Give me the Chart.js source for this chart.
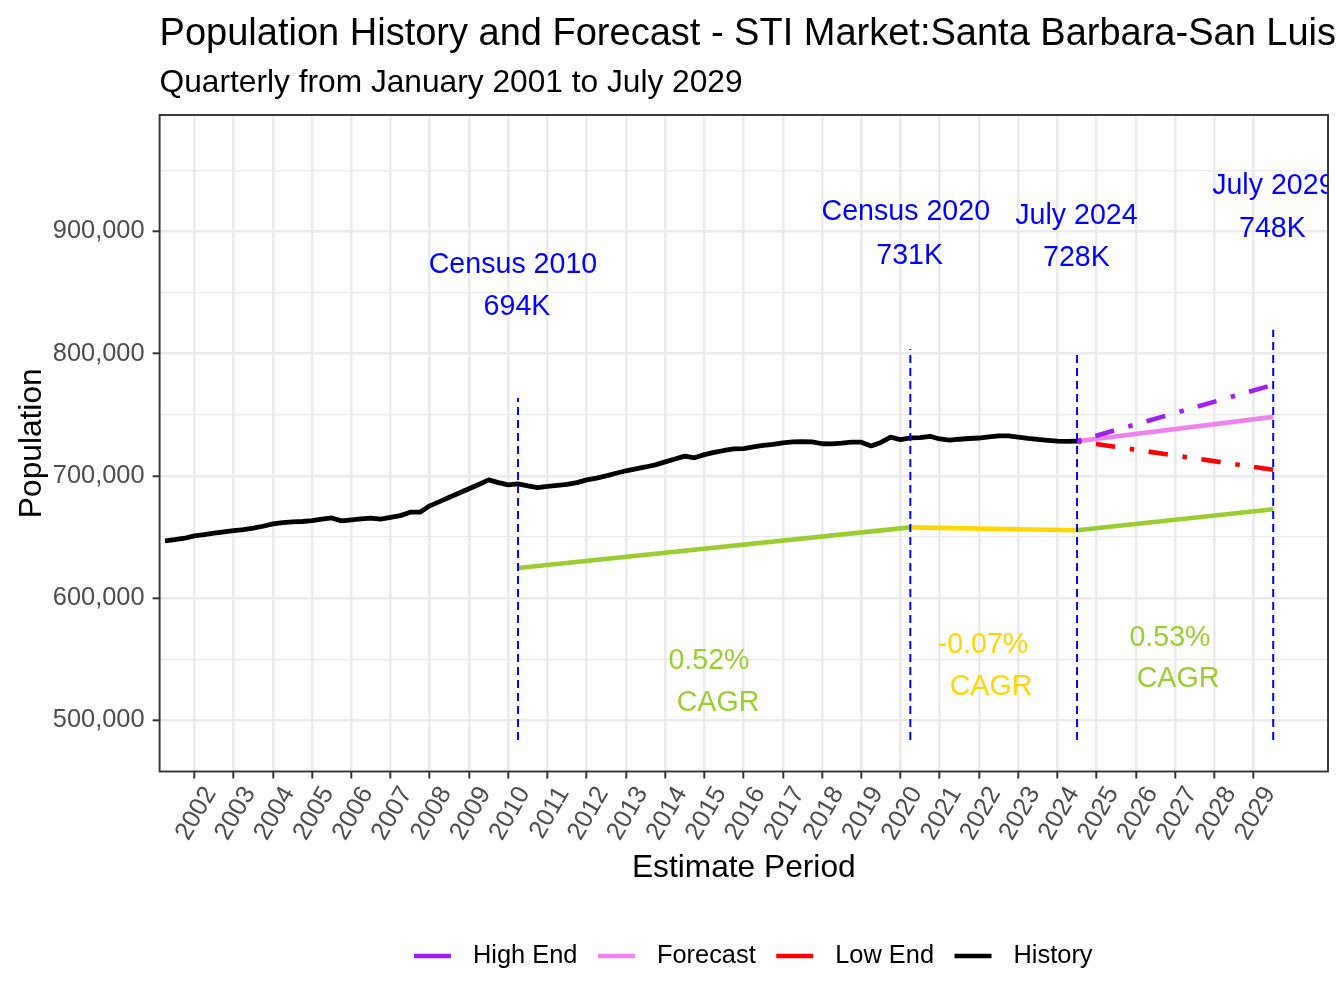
<!DOCTYPE html>
<html>
<head>
<meta charset="utf-8">
<script src="https://cdn.jsdelivr.net/npm/chart.js@4.4.0/dist/chart.umd.min.js"></script>
<style>
html,body{margin:0;padding:0;background:#ffffff;}
#wrap{width:1344px;height:1008px;position:relative;}
</style>
</head>
<body>
<div id="wrap"><canvas id="c" width="1344" height="1008"></canvas></div>
<script>
// ---------------- DATA ----------------
const chartTitle = "Population History and Forecast - STI Market:Santa Barbara-San Luis";
const chartSubtitle = "Quarterly from January 2001 to July 2029";
const xAxisTitle = "Estimate Period";
const yAxisTitle = "Population";

const historyPeriods = [
  "2001-04","2001-07","2001-10",
  "2002-01","2002-04","2002-07","2002-10",
  "2003-01","2003-04","2003-07","2003-10",
  "2004-01","2004-04","2004-07","2004-10",
  "2005-01","2005-04","2005-07","2005-10",
  "2006-01","2006-04","2006-07","2006-10",
  "2007-01","2007-04","2007-07","2007-10",
  "2008-01","2008-04","2008-07","2008-10",
  "2009-01","2009-04","2009-07","2009-10",
  "2010-01","2010-04","2010-07","2010-10",
  "2011-01","2011-04","2011-07","2011-10",
  "2012-01","2012-04","2012-07","2012-10",
  "2013-01","2013-04","2013-07","2013-10",
  "2014-01","2014-04","2014-07","2014-10",
  "2015-01","2015-04","2015-07","2015-10",
  "2016-01","2016-04","2016-07","2016-10",
  "2017-01","2017-04","2017-07","2017-10",
  "2018-01","2018-04","2018-07","2018-10",
  "2019-01","2019-04","2019-07","2019-10",
  "2020-01","2020-04","2020-07","2020-10",
  "2021-01","2021-04","2021-07","2021-10",
  "2022-01","2022-04","2022-07","2022-10",
  "2023-01","2023-04","2023-07","2023-10",
  "2024-01","2024-04","2024-07"
];
const historyValues = [
  646800,647800,649000,
  650900,652000,653100,654200,
  655200,656100,657200,658800,
  660700,661700,662400,662700,
  663500,664600,665600,663200,
  664000,664800,665400,664600,
  666000,667500,670300,670300,
  675500,679000,682500,686000,
  689500,693000,696700,694500,
  692600,693500,691800,690400,
  691500,692200,693000,694500,
  696700,698200,700000,702200,
  704200,705800,707300,709000,
  711500,713800,716200,714800,
  717400,719200,720800,722100,
  722300,723700,724900,725800,
  727000,727800,728000,727800,
  726300,726200,726800,727700,
  727600,724500,727400,731700,
  729600,731100,731300,732400,
  730200,729200,730000,730600,
  731000,732000,732700,732700,
  731800,730700,729800,729100,
  728500,728300,728400
];

const forecastPeriods = ["2024-07","2029-07"];
const forecastValues  = [728400, 748300];
const highEndValues   = [728400, 774500];
const lowEndValues    = [728400, 705000];

const cagrPeriods = ["2010-04","2020-04","2024-07","2029-07"];
const cagrLineValues = [624700, 657900, 655600, 672700];
const cagrSegmentColors = ["#9ACD32","#FFD700","#9ACD32"];

const markerPeriods = ["2010-04","2020-04","2024-07","2029-07"];
const markerTopValues = [763800, 803900, 801500, 819500];
const markerBottomValue = 484000;

const labelTexts  = ["Census 2010","694K","Census 2020","731K","July 2024","728K","July 2029","748K",
                     "0.52%","CAGR","-0.07%","CAGR","0.53%","CAGR"];
const labelYears  = [2010.121,2010.223,2020.134,2020.233,2024.483,2024.483,2029.504,2029.481,
                     2015.118,2015.347,2022.102,2022.306,2026.869,2027.073];
const labelValues = [866100,831800,909700,873400,905800,871700,931000,895600,
                     542100,507700,555200,520800,560900,527300];
const labelColors = ["#0000FF","#0000FF","#0000FF","#0000FF","#0000FF","#0000FF","#0000FF","#0000FF",
                     "#9ACD32","#9ACD32","#FFD700","#FFD700","#9ACD32","#9ACD32"];

const xTickYears  = [2002,2003,2004,2005,2006,2007,2008,2009,2010,2011,2012,2013,2014,2015,
                     2016,2017,2018,2019,2020,2021,2022,2023,2024,2025,2026,2027,2028,2029];
const xTickLabels = ["2002","2003","2004","2005","2006","2007","2008","2009","2010","2011","2012","2013","2014","2015",
                     "2016","2017","2018","2019","2020","2021","2022","2023","2024","2025","2026","2027","2028","2029"];
const yTickValues = [500000,600000,700000,800000,900000];
const yTickLabels = ["500,000","600,000","700,000","800,000","900,000"];
const yMinorValues = [550000,650000,750000,850000,950000];

const xMin = 2001.113, xMax = 2030.897;
const yMin = 458180, yMax = 995250;

// ---------------- HELPERS ----------------
const FONT = "'Liberation Sans', Arial, Helvetica, sans-serif";
function toYear(p){ const a = p.split('-').map(Number); return a[0] + (a[1]-1)/12; }
function pts(periods, values){ return periods.map((p,i)=>({x: toYear(p), y: values[i]})); }
function markerPts(){
  const out = [];
  markerPeriods.forEach((p,i)=>{
    const x = toYear(p);
    out.push({x, y: markerBottomValue});
    out.push({x, y: markerTopValues[i]});
    out.push({x, y: null});
  });
  return out;
}
const dotDash = [4.5, 14.5, 19.5, 14.8];

const datasets = [
  { label:"Markers", data: markerPts(), borderColor:"#0000FF", borderWidth:2, borderDash:[8,5],
    spanGaps:false, pointRadius:0, order:0, inLegend:false },
  { label:"High End", data: pts(forecastPeriods, highEndValues), borderColor:"#A020F0", borderWidth:4.6,
    borderDash: dotDash, pointRadius:0, order:1, inLegend:true },
  { label:"Forecast", data: pts(forecastPeriods, forecastValues), borderColor:"#EE82EE", borderWidth:4.6,
    pointRadius:0, order:3, inLegend:true },
  { label:"Low End", data: pts(forecastPeriods, lowEndValues), borderColor:"#FF0000", borderWidth:4.6,
    borderDash: dotDash, pointRadius:0, order:2, inLegend:true },
  { label:"History", data: pts(historyPeriods, historyValues), borderColor:"#000000", borderWidth:4.8,
    borderJoinStyle:"round", pointRadius:0, order:4, inLegend:true },
  { label:"CAGR", data: pts(cagrPeriods, cagrLineValues), borderColor:"#9ACD32", borderWidth:4.6,
    segment:{ borderColor: c => cagrSegmentColors[c.p0DataIndex] }, pointRadius:0, order:5, inLegend:false }
];

// ---------------- DECOR PLUGIN ----------------
const decor = {
  id: 'decor',
  beforeDraw(chart){
    const ctx = chart.ctx;
    ctx.save(); ctx.fillStyle = '#ffffff'; ctx.fillRect(0,0,chart.width,chart.height); ctx.restore();
  },
  afterDatasetsDraw(chart){
    const ctx = chart.ctx, a = chart.chartArea, xs = chart.scales.x, ys = chart.scales.y;
    ctx.save();
    ctx.beginPath(); ctx.rect(a.left, a.top, a.right-a.left, a.bottom-a.top); ctx.clip();
    ctx.font = `28.6px ${FONT}`;
    ctx.textAlign = 'center'; ctx.textBaseline = 'alphabetic';
    labelTexts.forEach((t,i)=>{
      ctx.fillStyle = labelColors[i];
      ctx.fillText(t, xs.getPixelForValue(labelYears[i]), ys.getPixelForValue(labelValues[i]));
    });
    ctx.restore();
  },
  afterDraw(chart){
    const ctx = chart.ctx, a = chart.chartArea;
    ctx.save();
    // panel border
    ctx.strokeStyle = '#333333'; ctx.lineWidth = 1.9; ctx.setLineDash([]);
    ctx.strokeRect(a.left, a.top, a.right-a.left, a.bottom-a.top);
    // titles
    ctx.fillStyle = '#000000'; ctx.textAlign = 'left'; ctx.textBaseline = 'alphabetic';
    ctx.font = `38px ${FONT}`;
    ctx.fillText(chartTitle, a.left, 45);
    ctx.font = `31.7px ${FONT}`;
    ctx.fillText(chartSubtitle, a.left, 92);
    // axis titles
    ctx.textAlign = 'center';
    ctx.fillText(xAxisTitle, (a.left+a.right)/2, 877);
    ctx.save();
    ctx.translate(41, (a.top+a.bottom)/2);
    ctx.rotate(-Math.PI/2);
    ctx.fillText(yAxisTitle, 0, 0);
    ctx.restore();
    // legend
    ctx.font = `25.4px ${FONT}`;
    ctx.textAlign = 'left'; ctx.textBaseline = 'middle';
    let x = 414; const y = 956;
    chart.data.datasets.filter(d=>d.inLegend).forEach(d=>{
      ctx.strokeStyle = d.borderColor; ctx.lineWidth = 4.6; ctx.setLineDash([]);
      ctx.beginPath(); ctx.moveTo(x, y); ctx.lineTo(x+37, y); ctx.stroke();
      x += 37 + 22;
      ctx.fillStyle = '#000000';
      ctx.fillText(d.label, x, y);
      x += ctx.measureText(d.label).width + 20.5;
    });
    ctx.restore();
  }
};

// ---------------- CHART ----------------
new Chart(document.getElementById('c'), {
  type: 'line',
  data: { datasets },
  options: {
    responsive: false,
    devicePixelRatio: 1,
    animation: false,
    events: [],
    layout: { autoPadding: false, padding: { left: 0, right: 16, top: 115, bottom: 0 } },
    plugins: { legend: { display: false }, tooltip: { enabled: false }, title: { display: false } },
    scales: {
      x: {
        type: 'linear', min: xMin, max: xMax,
        afterBuildTicks: s => { s.ticks = xTickYears.map(v => ({ value: v })); },
        afterFit: s => { s.height = 1008 - 771.5; },
        ticks: {
          autoSkip: false, minRotation: 60, maxRotation: 60, padding: 3, labelOffset: 16,
          color: '#4D4D4D', font: { family: FONT, size: 25.4 },
          callback: (v, i) => xTickLabels[i]
        },
        grid: { color: '#EBEBEB', lineWidth: 2.6, tickLength: 7, tickColor: '#333333', tickWidth: 2 },
        border: { display: false }
      },
      y: {
        type: 'linear', min: yMin, max: yMax,
        afterBuildTicks: s => { s.ticks = yTickValues.concat(yMinorValues).sort((p,q)=>p-q).map(v => ({ value: v })); },
        afterFit: s => { s.width = 159.6; },
        ticks: {
          autoSkip: false, padding: 8, color: '#4D4D4D', font: { family: FONT, size: 25.4 },
          callback: v => { const i = yTickValues.indexOf(v); return i >= 0 ? yTickLabels[i] : ''; }
        },
        grid: {
          color: '#EBEBEB',
          lineWidth: c => (c.tick && yTickValues.includes(c.tick.value)) ? 2.6 : 1.3,
          tickLength: 7,
          tickColor: c => (c.tick && yTickValues.includes(c.tick.value)) ? '#333333' : 'rgba(0,0,0,0)',
          tickWidth: 2
        },
        border: { display: false }
      }
    }
  },
  plugins: [decor]
});
</script>
</body>
</html>
